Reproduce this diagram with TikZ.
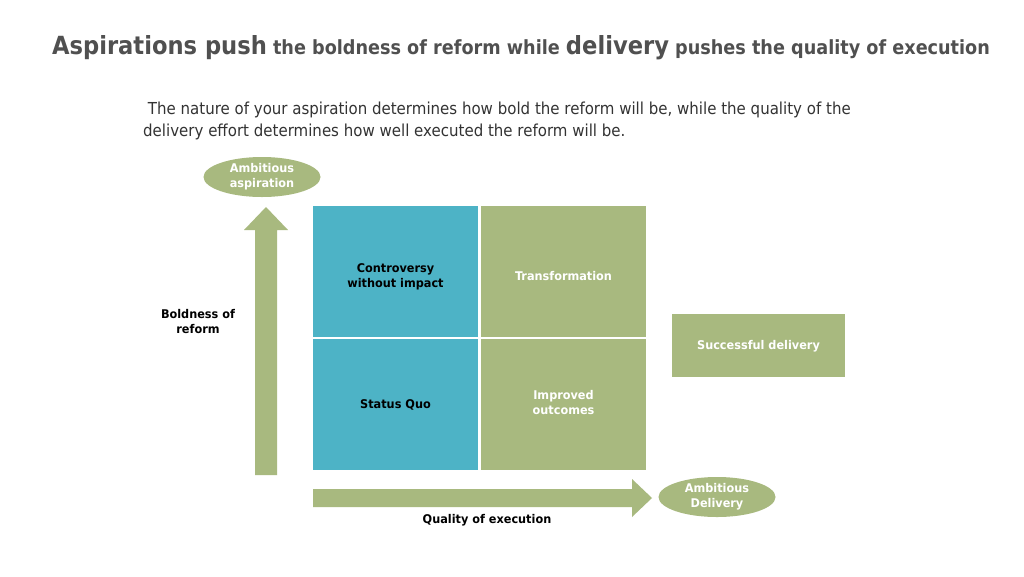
\documentclass[tikz,border=0pt]{standalone}
\usepackage{fontspec}
\setmainfont{DejaVu Sans}
\newfontfamily\titlefont[FakeStretch=0.905]{DejaVu Sans}
\newfontfamily\bodyfont[FakeStretch=0.91]{DejaVu Sans}
\newfontfamily\boxfont[FakeStretch=0.94]{DejaVu Sans}
\usetikzlibrary{shapes.geometric}
\definecolor{olive}{HTML}{A8B97F}
\definecolor{teal2}{HTML}{4DB3C6}
\definecolor{titlegray}{HTML}{505050}
\definecolor{bodygray}{HTML}{333333}
\tikzset{
  cell/.style={draw=none, minimum width=165pt, minimum height=131pt, inner sep=0pt},
  tealcell/.style={cell, fill=teal2},
  olivecell/.style={cell, fill=olive},
  celltext/.style={align=center, inner sep=0pt, font=\boxfont\bfseries\fontsize{12}{15}\selectfont},
  darktext/.style={celltext, text=black},
  lighttext/.style={celltext, text=white},
  oval/.style={ellipse, fill=olive, text=white, minimum width=117pt, minimum height=40pt, inner sep=0pt, align=center, font=\boxfont\bfseries\fontsize{12}{15}\selectfont},
  axislabel/.style={align=center, text=black, font=\boxfont\bfseries\fontsize{12}{15}\selectfont},
  bigarrow/.style={fill=olive, draw=none}
}
\begin{document}
\begin{tikzpicture}[x=1pt,y=-1pt]
\useasboundingbox (0,0) rectangle (1024,576);
\fill[white] (0,0) rectangle (1024,576);
% title
\node[anchor=base, text=titlegray, inner sep=0pt] (title) at (521,54)
  {\titlefont\bfseries{\fontsize{25}{30}\selectfont Aspirations push}{\fontsize{19.5}{24}\selectfont\ the boldness of reform while\ }{\fontsize{25}{30}\selectfont delivery}{\fontsize{19.5}{24}\selectfont\ pushes the quality of execution}};
% subtitle
\node[anchor=base west, text=bodygray, inner sep=0pt, align=left, font=\bodyfont\fontsize{16.5}{22}\selectfont] (sub) at (143,136)
  {\ The nature of your aspiration determines how bold the reform will be, while the quality of the\\delivery effort determines how well executed the reform will be.};
% grid
\node[tealcell] (tl) at (395.5,271) {};
\node[olivecell] (tr) at (563.5,271) {};
\node[tealcell] (bl) at (395.5,404.5) {};
\node[olivecell] (br) at (563.5,404.5) {};
\node[darktext] (tlt) at (395.5,276.5) {Controversy\\without impact};
\node[lighttext] (trt) at (563.5,276) {Transformation};
\node[darktext] (blt) at (395.5,405) {Status Quo};
\node[lighttext] (brt) at (563.5,403) {Improved\\outcomes};
% successful delivery
\node[olivecell, minimum width=173pt, minimum height=63pt] (sd) at (758.5,345.5) {};
\node[lighttext] (sdt) at (758.5,346) {Successful delivery};
% ovals
\node[oval] (asp) at (262,177) {Ambitious\\aspiration};
\node[oval] (del) at (717,497) {Ambitious\\Delivery};
% up arrow
\fill[bigarrow] (255,475) -- (255,230) -- (244,230) -- (266,207) -- (288,230) -- (277,230) -- (277,475) -- cycle;
% right arrow
\fill[bigarrow] (313,489) -- (632,489) -- (632,479) -- (652,498) -- (632,517) -- (632,507) -- (313,507) -- cycle;
% axis labels
\node[axislabel] (bold) at (198,322) {Boldness of\\reform};
\node[axislabel] (qual) at (487,520) {Quality of execution};
\end{tikzpicture}
\end{document}
